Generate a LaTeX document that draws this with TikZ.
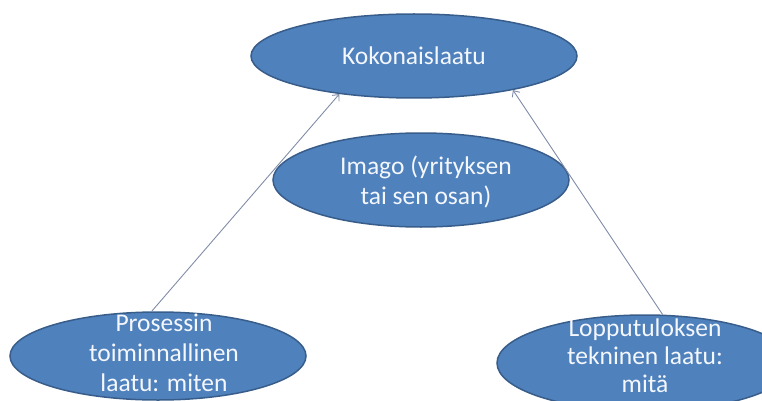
\documentclass[tikz,border=0pt]{standalone}
\usepackage{fontspec}
\setmainfont{Carlito}
\usetikzlibrary{shapes.geometric,arrows.meta}
\definecolor{ellfill}{RGB}{79,129,189}
\definecolor{elldraw}{RGB}{56,93,138}
\definecolor{arrcol}{RGB}{128,140,168}
\definecolor{txtcol}{RGB}{244,247,252}
\tikzset{
  oval/.style={ellipse, draw=elldraw, fill=ellfill, line width=1.5pt, inner sep=0pt},
  lbl/.style={text=txtcol, align=center, inner sep=0pt, font=\fontsize{25.5}{30}\selectfont},
  conn/.style={draw=arrcol, line width=0.9pt, -{Straight Barb[length=5pt,width=9pt]}}
}
\begin{document}
\begin{tikzpicture}[x=1pt,y=-1pt]
\useasboundingbox (0,0) rectangle (762,401);
\clip (0,0) rectangle (762,401);
\node[oval, minimum width=326pt, minimum height=84pt] (kok) at (414,56) {};
\node[lbl] (kokt) at (kok.center) {Kokonaislaatu};
\node[oval, minimum width=296pt, minimum height=94pt] (ima) at (421,180) {};
\node[lbl] (imat) at (426,182) {Imago (yrityksen\\tai sen osan)};
\node[oval, minimum width=296pt, minimum height=88pt] (pro) at (158,356) {};
\node[lbl] (prot) at (164,353) {Prosessin\\toiminnallinen\\laatu: miten};
\node[oval, minimum width=296pt, minimum height=96pt] (lop) at (645,363) {};
\node[lbl, font=\fontsize{25.5}{28}\selectfont] (lopt) at (645,356) {Lopputuloksen\\tekninen laatu:\\mitä};
\draw[conn] (pro.98) -- (kok.207);
\draw[conn] (lop.70) -- (kok.341);
\end{tikzpicture}
\end{document}
